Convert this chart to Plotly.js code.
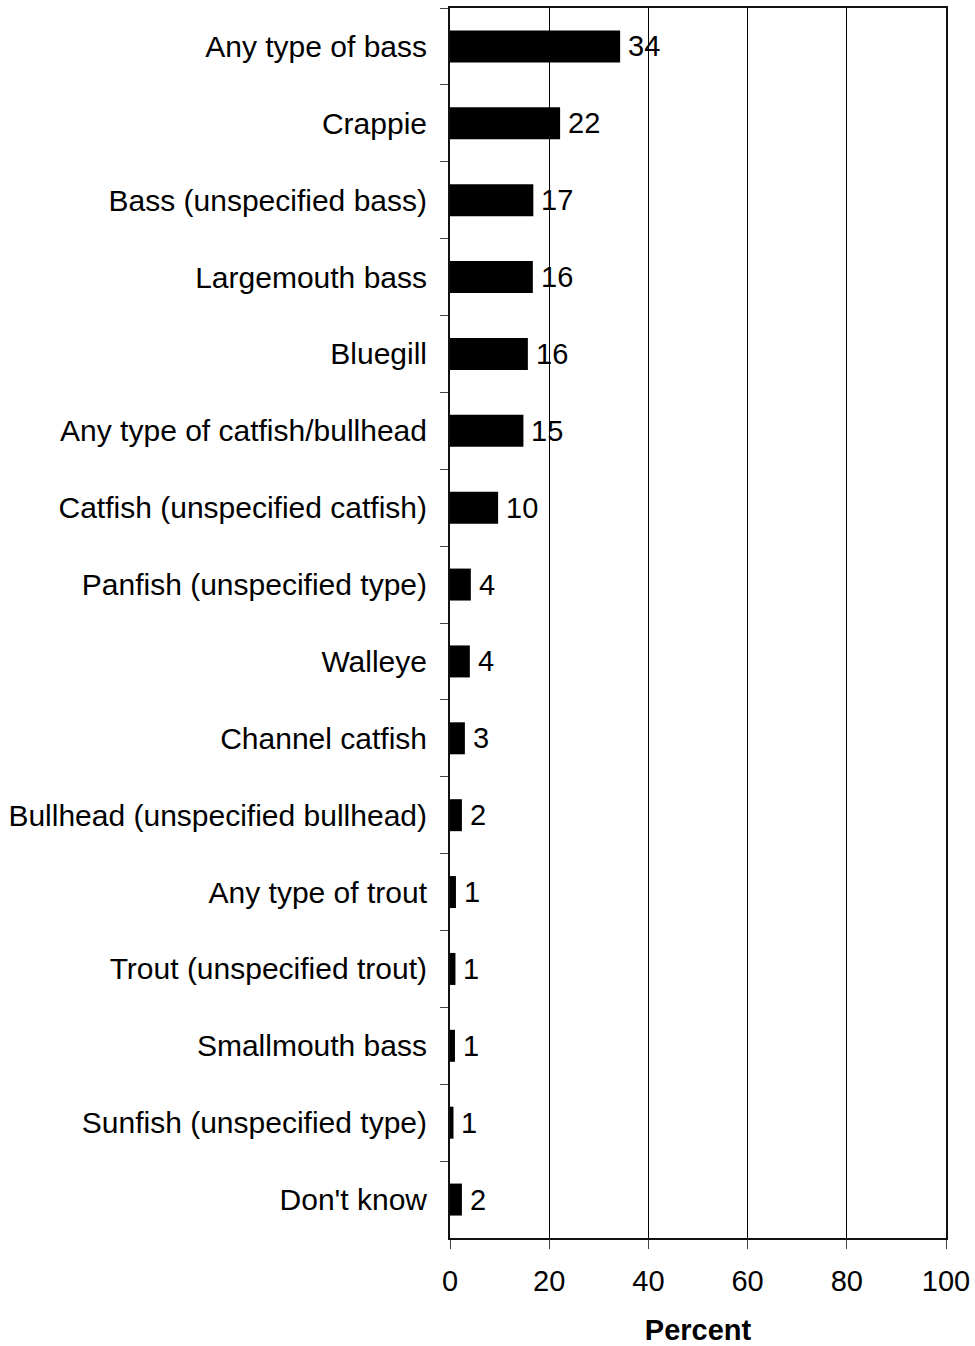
<!DOCTYPE html>
<html>
<head>
<meta charset="utf-8">
<script src="https://cdn.plot.ly/plotly-3.0.1.min.js"></script>
<style>
  html, body { margin: 0; padding: 0; background: #fff; }
  #chart { width: 975px; height: 1346px; }
</style>
</head>
<body>
<div id="chart"></div>
<script>
const categories = [
  "Any type of bass",
  "Crappie",
  "Bass (unspecified bass)",
  "Largemouth bass",
  "Bluegill",
  "Any type of catfish/bullhead",
  "Catfish (unspecified catfish)",
  "Panfish (unspecified type)",
  "Walleye",
  "Channel catfish",
  "Bullhead (unspecified bullhead)",
  "Any type of trout",
  "Trout (unspecified trout)",
  "Smallmouth bass",
  "Sunfish (unspecified type)",
  "Don't know"
];
const percentValues = [34.3, 22.2, 16.8, 16.7, 15.7, 14.8, 9.7, 4.2, 4.0, 3.0, 2.4, 1.2, 1.1, 1.0, 0.7, 2.4];
const valueLabels = ["34", "22", "17", "16", "16", "15", "10", "4", "4", "3", "2", "1", "1", "1", "1", "2"];
const xTickVals = [0, 20, 40, 60, 80, 100];

const FONT = "Liberation Sans, Arial, sans-serif";

const trace = {
  type: "bar",
  orientation: "h",
  y: categories,
  x: percentValues,
  marker: { color: "#000000", line: { width: 0 } },
  hoverinfo: "none"
};

const annotations = categories.map((c, i) => ({
  x: percentValues[i],
  y: c,
  xref: "x",
  yref: "y",
  text: valueLabels[i],
  showarrow: false,
  xanchor: "left",
  yanchor: "middle",
  xshift: 6,
  font: { family: FONT, size: 29, color: "#000" }
}));

const layout = {
  width: 975,
  height: 1346,
  margin: { l: 450, r: 29, t: 8, b: 108, pad: 0 },
  paper_bgcolor: "#fff",
  plot_bgcolor: "#fff",
  font: { family: FONT, size: 29, color: "#000" },
  showlegend: false,
  bargap: 0.584,
  xaxis: {
    range: [0, 100],
    tickvals: xTickVals,
    ticktext: xTickVals.map(String),
    ticks: "outside",
    ticklen: 9,
    tickcolor: "#444",
    tickwidth: 1,
    showgrid: true,
    gridcolor: "#000",
    gridwidth: 1,
    showline: true,
    linecolor: "#111",
    linewidth: 2,
    mirror: true,
    zeroline: false,
    fixedrange: true,
    ticklabelstandoff: 7,
    tickfont: { family: FONT, size: 29, color: "#000" },
    title: { text: "<b>Percent</b>", font: { family: FONT, size: 29, color: "#000" }, standoff: 25 }
  },
  yaxis: {
    type: "category",
    autorange: "reversed",
    ticks: "outside",
    tickson: "boundaries",
    ticklen: 8,
    tickcolor: "#444",
    tickwidth: 1,
    showgrid: false,
    showline: true,
    linecolor: "#111",
    linewidth: 2,
    mirror: true,
    zeroline: false,
    fixedrange: true,
    ticklabelstandoff: 15,
    tickfont: { family: FONT, size: 30, color: "#000" }
  },
  annotations: annotations
};

Plotly.newPlot("chart", [trace], layout, { displayModeBar: false, staticPlot: true });
</script>
</body>
</html>
